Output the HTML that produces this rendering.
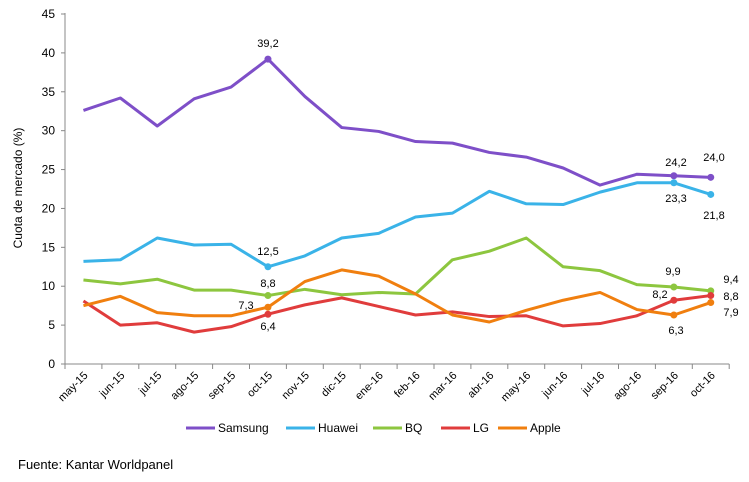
<!DOCTYPE html><html><head><meta charset="utf-8"><style>
body{margin:0;background:#fff}
svg text{font-family:"Liberation Sans",Arial,sans-serif;fill:#000}
</style></head><body>
<svg width="749" height="477" xmlns="http://www.w3.org/2000/svg" id="s">
</svg>
<script>
const s=document.getElementById('s');
const X0=65,Y0=364,ST=36.9,K=350/45;
const cats=["may-15","jun-15","jul-15","ago-15","sep-15","oct-15","nov-15","dic-15","ene-16","feb-16","mar-16","abr-16","may-16","jun-16","jul-16","ago-16","sep-16","oct-16"];
let h='';
h+=`<line x1="${X0}" y1="13" x2="${X0}" y2="${Y0}" stroke="#888"/>`;
h+=`<line x1="${X0}" y1="${Y0}" x2="${X0+18*ST}" y2="${Y0}" stroke="#888"/>`;
for(let v=0;v<=45;v+=5){const y=Y0-v*K;h+=`<line x1="${X0-4}" y1="${y}" x2="${X0}" y2="${y}" stroke="#888"/><text x="${X0-10}" y="${y+4}" font-size="12" text-anchor="end">${v}</text>`;}
for(let i=0;i<=18;i++){const x=X0+i*ST;h+=`<line x1="${x}" y1="${Y0}" x2="${x}" y2="${Y0+5}" stroke="#888"/>`;}
cats.forEach((c,i)=>{const x=X0+ST/2+i*ST+5,y=Y0+12;h+=`<text transform="translate(${x},${y}) rotate(-45)" font-size="11" text-anchor="end">${c}</text>`;});
h+=`<text transform="translate(22,188) rotate(-90)" font-size="12" text-anchor="middle">Cuota de mercado (%)</text>`;
const S=[
["#7e4fc8",[32.6,34.2,30.6,34.1,35.6,39.2,34.4,30.4,29.9,28.6,28.4,27.2,26.6,25.2,23.0,24.4,24.2,24.0]],
["#3ab3e8",[13.2,13.4,16.2,15.3,15.4,12.5,13.9,16.2,16.8,18.9,19.4,22.2,20.6,20.5,22.1,23.3,23.3,21.8]],
["#8dc63f",[10.8,10.3,10.9,9.5,9.5,8.8,9.6,8.9,9.2,9.0,13.4,14.5,16.2,12.5,12.0,10.2,9.9,9.4]],
["#e03c3c",[8.1,5.0,5.3,4.1,4.8,6.4,7.6,8.5,7.4,6.3,6.7,6.1,6.2,4.9,5.2,6.2,8.2,8.8]],
["#f07f0f",[7.5,8.7,6.6,6.2,6.2,7.3,10.6,12.1,11.3,9.0,6.3,5.4,6.9,8.2,9.2,7.0,6.3,7.9]]];
const px=i=>X0+ST/2+i*ST, py=v=>Y0-v*K;
S.forEach(([c,d])=>{h+=`<polyline fill="none" stroke="${c}" stroke-width="3" stroke-linejoin="round" points="${d.map((v,i)=>px(i)+','+py(v)).join(' ')}"/>`;
[5,16,17].forEach(i=>h+=`<circle cx="${px(i)}" cy="${py(d[i])}" r="3.5" fill="${c}"/>`);});
const L=[[268,47,"39,2"],[268,255,"12,5"],[268,287,"8,8"],[246,309,"7,3"],[268,330,"6,4"],
[676,166,"24,2"],[714,161,"24,0"],[676,202,"23,3"],[714,219,"21,8"],[673,275,"9,9"],[731,283,"9,4"],
[660,298,"8,2"],[731,300,"8,8"],[676,334,"6,3"],[731,316,"7,9"]];
L.forEach(([x,y,t])=>h+=`<text x="${x}" y="${y}" font-size="11" text-anchor="middle">${t}</text>`);
const lg=[[186,"Samsung"],[286,"Huawei"],[373,"BQ"],[441,"LG"],[498,"Apple"]];
lg.forEach(([x,t],i)=>{h+=`<line x1="${x}" y1="428" x2="${x+29}" y2="428" stroke="${S[i][0]}" stroke-width="3"/><text x="${x+32}" y="432" font-size="12">${t}</text>`;});
h+=`<text x="18" y="469" font-size="13">Fuente: Kantar Worldpanel</text>`;
s.innerHTML=h;
</script>
</body></html>
